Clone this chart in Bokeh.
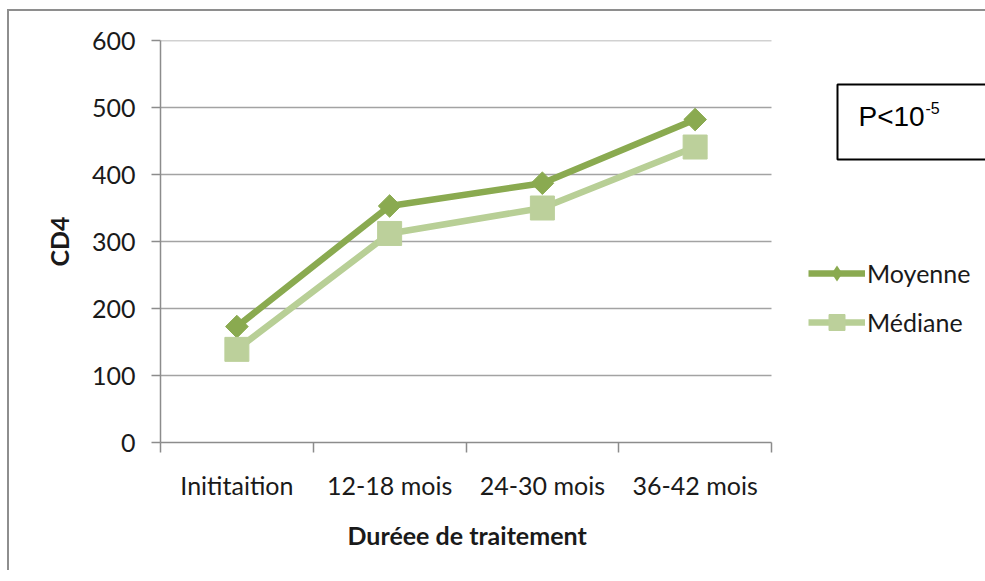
import numpy as np
from bokeh.plotting import figure
from bokeh.models import (Range1d, FixedTicker, Legend, LegendItem, Label, Title,
                          BoxAnnotation, ColumnDataSource)
from bokeh.embed import file_html
from bokeh.resources import INLINE

# ---- data ----
categories = ["Inititaition", "12-18 mois", "24-30 mois", "36-42 mois"]
moyenne = [173, 353, 387, 482]
mediane = [139, 312, 350, 441]
y_ticks = [0, 100, 200, 300, 400, 500, 600]
series_names = ["Moyenne", "Médiane"]
x_title = "Duréee de traitement"
y_title = "CD4"
p_text = "P<10"
p_exp = "-5"

# ---- style ----
FONT = "Lato"
FS = "25px"
C_MOY = "#8AAA50"
C_MED_LINE = "#B8CF96"
C_MED_MARK = "#BCD09B"
GRID = "#A3A3A3"
AXIS = "#8C8C8C"
TXT = "#1A1A1A"

PX_PER_CAT = 152.75          # pixel width of one category slot
FRAME_W = 825
FRAME_H = 402

ncat = len(categories)
xpos = [i + 0.5 for i in range(ncat)]
src = ColumnDataSource(dict(x=xpos, moy=moyenne, med=mediane))
grid_src = ColumnDataSource(dict(x0=[0] * (len(y_ticks) - 1), x1=[ncat] * (len(y_ticks) - 1),
                                 y=y_ticks[1:]))

p = figure(frame_width=FRAME_W, frame_height=FRAME_H,
           x_range=Range1d(0, FRAME_W / PX_PER_CAT), y_range=Range1d(y_ticks[0], y_ticks[-1]),
           output_backend="svg", toolbar_location=None,
           min_border_left=151, min_border_right=0, min_border_top=29, min_border_bottom=128)
p.outline_line_color = None
p.background_fill_color = "white"
p.border_fill_color = "white"
p.styles = {"margin-left": "7px", "margin-top": "9px",
            "border-left": "2px solid #8E8E8E", "border-top": "2px solid #8E8E8E"}

# axes
p.yaxis.ticker = FixedTicker(ticks=y_ticks, minor_ticks=[])
p.yaxis.major_tick_out = 9
p.yaxis.major_tick_in = 0
p.yaxis.minor_tick_out = 0
p.yaxis.axis_line_color = AXIS
p.yaxis.axis_line_width = 1.5
p.yaxis.major_tick_line_color = AXIS
p.yaxis.major_tick_line_width = 1.5
p.yaxis.major_label_standoff = 16
p.yaxis.major_label_text_font = FONT
p.yaxis.major_label_text_font_size = FS
p.yaxis.major_label_text_color = TXT
p.yaxis.axis_label = y_title
p.yaxis.axis_label_text_font = FONT
p.yaxis.axis_label_text_font_style = "bold"
p.yaxis.axis_label_text_font_size = FS
p.yaxis.axis_label_text_color = TXT
p.yaxis.axis_label_standoff = 15

p.xaxis.bounds = (0, ncat)
p.xaxis.ticker = FixedTicker(ticks=xpos, minor_ticks=list(range(ncat + 1)))
p.xaxis.major_label_overrides = {x: c for x, c in zip(xpos, categories)}
p.xaxis.major_tick_out = 0
p.xaxis.major_tick_in = 0
p.xaxis.minor_tick_out = 10
p.xaxis.minor_tick_in = 0
p.xaxis.minor_tick_line_color = AXIS
p.xaxis.minor_tick_line_width = 1.5
p.xaxis.axis_line_color = AXIS
p.xaxis.axis_line_width = 1.5
p.xaxis.major_label_standoff = 17
p.xaxis.major_label_text_font = FONT
p.xaxis.major_label_text_font_size = FS
p.xaxis.major_label_text_color = TXT

xt = Title(text=x_title, align="left", offset=187, standoff=30,
           text_font=FONT, text_font_size=FS, text_font_style="bold", text_color=TXT)
p.add_layout(xt, "below")

p.xgrid.grid_line_color = None
p.ygrid.grid_line_color = None
p.segment("x0", "y", "x1", "y", source=grid_src, line_color=GRID, line_width=1.3)

# series
l1 = p.line("x", "moy", source=src, line_color=C_MOY, line_width=6.5)
# zero-size diamond: only used so the legend key shows a diamond
k1 = p.scatter("x", "moy", source=src, marker="diamond", size=0, line_width=0,
               fill_color=C_MOY, line_color=C_MOY)
m1 = p.scatter("x", "moy", source=src, marker="square", angle=np.pi / 4, size=16,
               fill_color=C_MOY, line_color=C_MOY)
l2 = p.line("x", "med", source=src, line_color=C_MED_LINE, line_width=6.5)
m2 = p.scatter("x", "med", source=src, marker="square", size=24,
               fill_color=C_MED_MARK, line_color=C_MED_MARK)

legend = Legend(items=[LegendItem(label=series_names[0], renderers=[l1, k1]),
                       LegendItem(label=series_names[1], renderers=[l2, m2])],
                location=(648, 100), glyph_width=57, glyph_height=40, spacing=9,
                label_standoff=2, padding=0, margin=0,
                border_line_color=None, background_fill_alpha=0,
                label_text_font=FONT, label_text_font_size=FS, label_text_color=TXT)
p.add_layout(legend, "center")

# annotation box (right edge runs off the picture)
pbox = BoxAnnotation(left=677, right=1400, top=358, bottom=283,
                     left_units="screen", right_units="screen",
                     top_units="screen", bottom_units="screen",
                     fill_alpha=0, line_color="black", line_width=2, line_alpha=1)
p.add_layout(pbox)
ptxt = Label(x=698, y=326, x_units="screen", y_units="screen", text=p_text,
             text_font="Liberation Sans", text_font_size="28px", text_color="black",
             text_baseline="alphabetic", text_align="left")
p.add_layout(ptxt)
sup = Label(x=765, y=335, x_units="screen", y_units="screen", text=p_exp,
            text_font="Liberation Sans", text_font_size="16px", text_color="black",
            text_baseline="alphabetic", text_align="left")
p.add_layout(sup)

open("out.html", "w").write(file_html(p, INLINE))
